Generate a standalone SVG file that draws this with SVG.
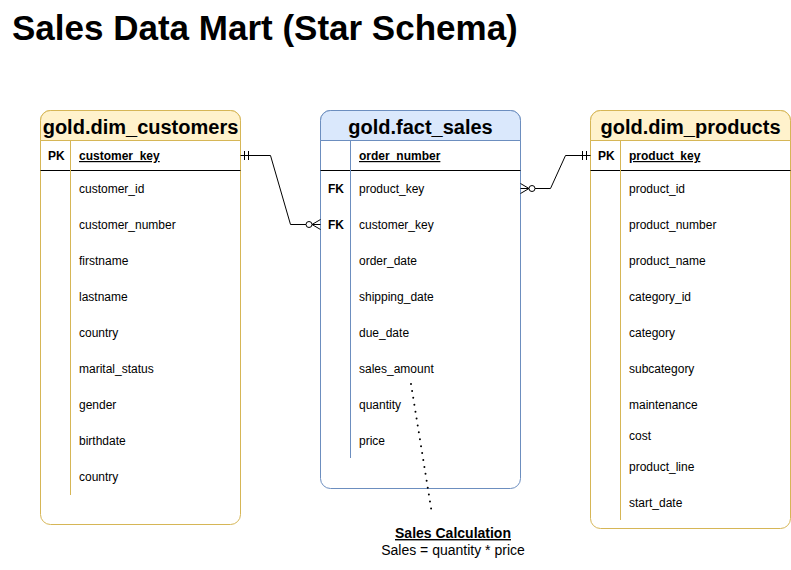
<svg xmlns="http://www.w3.org/2000/svg" width="791" height="570" viewBox="0 0 791 570">
<style>
text{font-family:"Liberation Sans",Arial,sans-serif;fill:#000}
.title{font-size:35px;font-weight:bold}
.hdr{font-size:20px;font-weight:bold;text-anchor:middle}
.f{font-size:12px}
.k{font-size:12px;font-weight:bold}
.u{text-decoration:underline}
.y{stroke:#d6b656;stroke-width:1}
.b{stroke:#6c8ebf;stroke-width:1}
.ln{stroke:#000;stroke-width:1;fill:none}
</style>
<rect width="791" height="570" fill="#fff"/>
<text class="title" x="12" y="40">Sales Data Mart (Star Schema)</text>

<g id="dim_customers">
<rect x="40.5" y="110.5" width="200" height="414" rx="10" fill="#fff" class="y"/>
<path d="M40.5,140.5 V120.5 A10,10 0 0 1 50.5,110.5 H230.5 A10,10 0 0 1 240.5,120.5 V140.5 Z" fill="#fff2cc" class="y"/>
<text class="hdr" x="140.5" y="134">gold.dim_customers</text>
<line x1="40.5" y1="170.5" x2="240.5" y2="170.5" class="ln"/>
<line x1="70.5" y1="140.5" x2="70.5" y2="495" class="y"/>
<text class="k" x="48" y="160">PK</text>
<text class="k u" x="79" y="160">customer_key</text>
<text class="f" x="79" y="193">customer_id</text>
<text class="f" x="79" y="229">customer_number</text>
<text class="f" x="79" y="265">firstname</text>
<text class="f" x="79" y="301">lastname</text>
<text class="f" x="79" y="337">country</text>
<text class="f" x="79" y="373">marital_status</text>
<text class="f" x="79" y="409">gender</text>
<text class="f" x="79" y="445">birthdate</text>
<text class="f" x="79" y="481">country</text>
</g>

<g id="fact_sales">
<rect x="320.5" y="110.5" width="200" height="378" rx="10" fill="#fff" class="b"/>
<path d="M320.5,140.5 V120.5 A10,10 0 0 1 330.5,110.5 H510.5 A10,10 0 0 1 520.5,120.5 V140.5 Z" fill="#dae8fc" class="b"/>
<text class="hdr" x="420.5" y="134">gold.fact_sales</text>
<line x1="320.5" y1="170.5" x2="520.5" y2="170.5" class="ln"/>
<line x1="350.5" y1="140.5" x2="350.5" y2="458" class="b"/>
<text class="k u" x="359" y="160">order_number</text>
<text class="k" x="328" y="193">FK</text>
<text class="f" x="359" y="193">product_key</text>
<text class="k" x="328" y="229">FK</text>
<text class="f" x="359" y="229">customer_key</text>
<text class="f" x="359" y="265">order_date</text>
<text class="f" x="359" y="301">shipping_date</text>
<text class="f" x="359" y="337">due_date</text>
<text class="f" x="359" y="373">sales_amount</text>
<text class="f" x="359" y="409">quantity</text>
<text class="f" x="359" y="445">price</text>
</g>

<g id="dim_products">
<rect x="590.5" y="110.5" width="200" height="418" rx="10" fill="#fff" class="y"/>
<path d="M590.5,140.5 V120.5 A10,10 0 0 1 600.5,110.5 H780.5 A10,10 0 0 1 790.5,120.5 V140.5 Z" fill="#fff2cc" class="y"/>
<text class="hdr" x="690.5" y="134">gold.dim_products</text>
<line x1="590.5" y1="170.5" x2="790.5" y2="170.5" class="ln"/>
<line x1="620.5" y1="140.5" x2="620.5" y2="520" class="y"/>
<text class="k" x="598" y="160">PK</text>
<text class="k u" x="629" y="160">product_key</text>
<text class="f" x="629" y="193">product_id</text>
<text class="f" x="629" y="229">product_number</text>
<text class="f" x="629" y="265">product_name</text>
<text class="f" x="629" y="301">category_id</text>
<text class="f" x="629" y="337">category</text>
<text class="f" x="629" y="373">subcategory</text>
<text class="f" x="629" y="409">maintenance</text>
<text class="f" x="629" y="440">cost</text>
<text class="f" x="629" y="471">product_line</text>
<text class="f" x="629" y="507">start_date</text>
</g>

<g id="connectors">
<path class="ln" d="M240.5,155.5 H270.5 L290.5,224.5 H310"/>
<line class="ln" x1="244.5" y1="151" x2="244.5" y2="160"/>
<line class="ln" x1="248.5" y1="151" x2="248.5" y2="160"/>
<circle cx="309" cy="224.5" r="3" fill="#fff" stroke="#000"/>
<path class="ln" d="M320.5,219.5 L312,224.5 L320.5,229.5 M312,224.5 H320.5"/>
<path class="ln" d="M530,188.5 H550.5 L565.5,155.5 H590.5"/>
<circle cx="532" cy="188.5" r="3" fill="#fff" stroke="#000"/>
<path class="ln" d="M520.5,183.5 L529,188.5 L520.5,193.5 M520.5,188.5 H529"/>
<line class="ln" x1="582.5" y1="151" x2="582.5" y2="160"/>
<line class="ln" x1="586.5" y1="151" x2="586.5" y2="160"/>
<line x1="411" y1="384" x2="432" y2="514" stroke="#000" stroke-width="2" stroke-linecap="round" stroke-dasharray="0 7"/>
</g>

<g id="note">
<text x="453" y="538" text-anchor="middle" style="font-size:14px;font-weight:bold;text-decoration:underline">Sales Calculation</text>
<text x="453" y="555" text-anchor="middle" style="font-size:14px">Sales = quantity * price</text>
</g>
</svg>
